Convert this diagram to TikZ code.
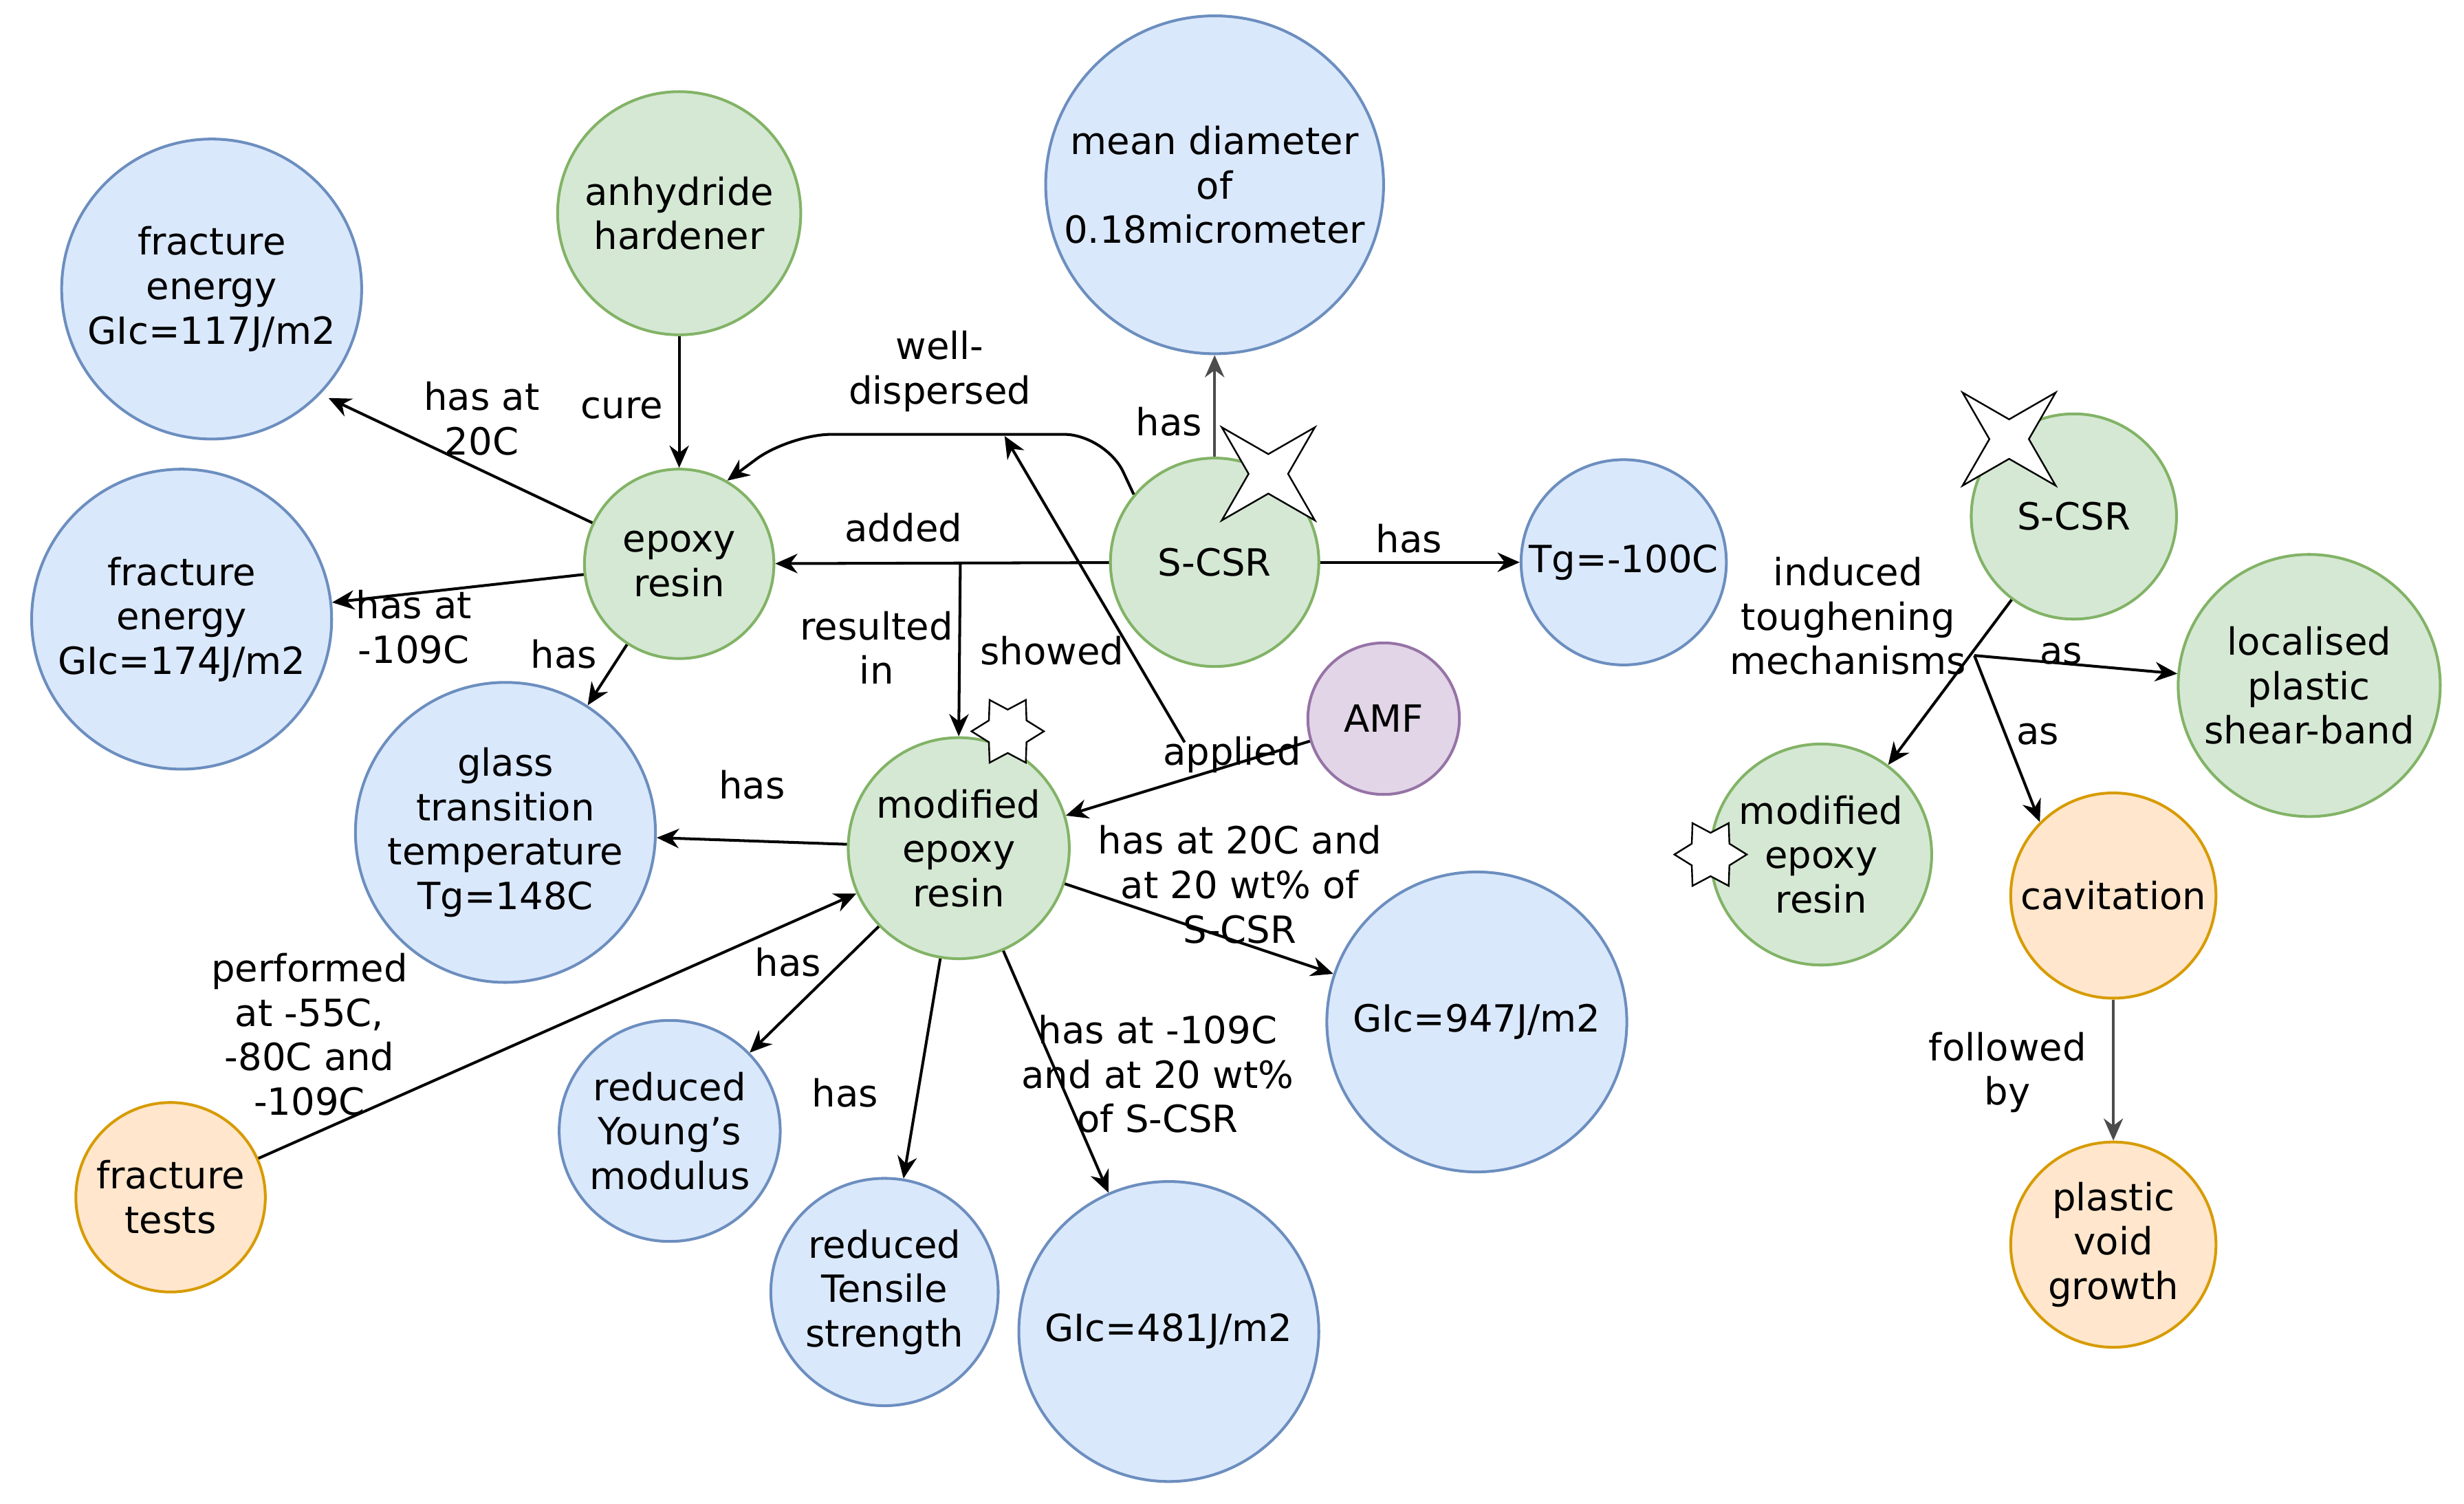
\documentclass[tikz,border=0pt]{standalone}
\usepackage{fontspec}
\setmainfont{DejaVu Sans}
\usetikzlibrary{arrows.meta,shapes.geometric}
\definecolor{bF}{HTML}{DAE8FC}\definecolor{bD}{HTML}{6C8EBF}
\definecolor{gF}{HTML}{D5E8D4}\definecolor{gD}{HTML}{82B366}
\definecolor{oF}{HTML}{FFE6CC}\definecolor{oD}{HTML}{D79B00}
\definecolor{pF}{HTML}{E1D5E7}\definecolor{pD}{HTML}{9673A6}
\tikzset{
 c/.style={circle,draw,line width=1pt,inner sep=0pt,align=center,font=\fontsize{13.5}{16}\selectfont,minimum size=#1*0.04cm},
 bl/.style={c=#1,fill=bF,draw=bD},
 gr/.style={c=#1,fill=gF,draw=gD},
 or/.style={c=#1,fill=oF,draw=oD},
 pu/.style={c=#1,fill=pF,draw=pD},
 e/.style={-{Stealth[length=8pt,width=7pt]},line width=1pt},
 lb/.style={align=center,font=\fontsize{13.5}{16}\selectfont},
 st/.style={star,draw,fill=white,line width=0.6pt,inner sep=0pt}
}
\begin{document}
\begin{tikzpicture}[x=0.02cm,y=-0.02cm]
\useasboundingbox (0,0) rectangle (1560,952);
\node[bl=95] (f117) at (134,183) {fracture\\energy\\GIc=117J/m2};
\node[gr=77] (anh) at (430,135) {anhydride\\hardener};
\node[bl=107] (md) at (769,117) {mean diameter\\of\\0.18micrometer};
\node[bl=95] (f174) at (115,392) {fracture\\energy\\GIc=174J/m2};
\node[gr=60] (ep) at (430,357) {epoxy\\resin};
\node[gr=66] (sc) at (769,356) {S-CSR};
\node[bl=65] (tg) at (1028,356) {Tg=-100C};
\node[gr=65] (sc2) at (1313,327) {S-CSR};
\node[gr=83] (loc) at (1462,434) {localised\\plastic\\shear-band};
\node[bl=95] (gt) at (320,527) {glass\\transition\\temperature\\Tg=148C};
\node[gr=70] (mod) at (607,537) {modified\\epoxy\\resin};
\node[pu=48] (amf) at (876,455) {AMF};
\node[gr=70] (mod2) at (1153,541) {modified\\epoxy\\resin};
\node[or=65] (cav) at (1338,567) {cavitation};
\node[bl=95] (g947) at (935,647) {GIc=947J/m2};
\node[bl=70] (yng) at (424,716) {reduced\\Young's\\modulus};
\node[or=60] (ft) at (108,758) {fracture\\tests};
\node[bl=72] (ts) at (560,818) {reduced\\Tensile\\strength};
\node[bl=95] (g481) at (740,843) {GIc=481J/m2};
\node[or=65] (pv) at (1338,788) {plastic\\void\\growth};
% stars
\node[st,star points=4,star point ratio=0.3,minimum size=0.5cm] (s1) at (803,300) {};
\node[st,star points=4,star point ratio=0.3,minimum size=0.5cm] (s2) at (1272,278) {};
\node[st,star points=6,star point ratio=0.6,minimum size=0.55cm] (s3) at (638,463) {};
\node[st,star points=6,star point ratio=0.6,minimum size=0.55cm] (s4) at (1083,541) {};
% edges
\draw[e] (anh) -- (ep) node[lb,pos=0.55,left=2pt] {cure};
\draw[e] (ep) -- (208,252); \node[lb] (l1) at (305,265) {has at\\20C};
\draw[e] (ep) -- (f174); \node[lb] (l2) at (262,397) {has at\\-109C};
\draw[e] (ep) -- (gt); \node[lb] (l3) at (357,414) {has};
\draw[e] (sc) -- (ep); \node[lb] (l4) at (572,334) {added};
\draw[e,rounded corners=15pt] (sc.140) -- (700,275) -- (500,275) -- (ep.60);
\node[lb] (l5) at (595,235) {well-\\dispersed};
\draw[e,draw=black!70] (sc) -- (md); \node[lb] (l6) at (740,267) {has};
\draw[e] (sc) -- (tg); \node[lb] (l7) at (892,341) {has};
\coordinate (rs) at (608,356);
\draw[e] (rs) -- (mod.north); \node[lb] (l8) at (555,410) {resulted\\in};
\coordinate (sh) at (750,470);
\draw[e] (sh) -- (636,276); \node[lb] (l9) at (666,412) {showed};
\draw[e] (amf) -- (mod); \node[lb] (l10) at (780,478) {applied};
\draw[e] (mod) -- (gt); \node[lb] (l11) at (476,497) {has};
\draw[e] (ft) -- (mod); \node[lb] (l12) at (196,655) {performed\\at -55C,\\-80C and\\-109C};
\draw[e] (mod) -- (g947); \node[lb] (l13) at (785,560) {has at 20C and\\at 20 wt\% of\\S-CSR};
\draw[e] (mod) -- (yng); \node[lb] (l14) at (499,609) {has};
\draw[e] (mod) -- (ts); \node[lb] (l15) at (535,692) {has};
\draw[e] (mod) -- (g481); \node[lb] (l16) at (733,680) {has at -109C\\and at 20 wt\%\\of S-CSR};
\draw[e] (sc2) -- (mod2); \node[lb] (l17) at (1170,390) {induced\\toughening\\mechanisms};
\coordinate (as) at (1250,415);
\draw[e] (as) -- (loc); \node[lb] (l18) at (1305,414) {as};
\draw[e] (as) -- (cav.north west); \node[lb] (l19) at (1290,465) {as};
\draw[e,draw=black!70] (cav) -- (pv); \node[lb] (l20) at (1271,679) {followed\\by};
\end{tikzpicture}
\end{document}
